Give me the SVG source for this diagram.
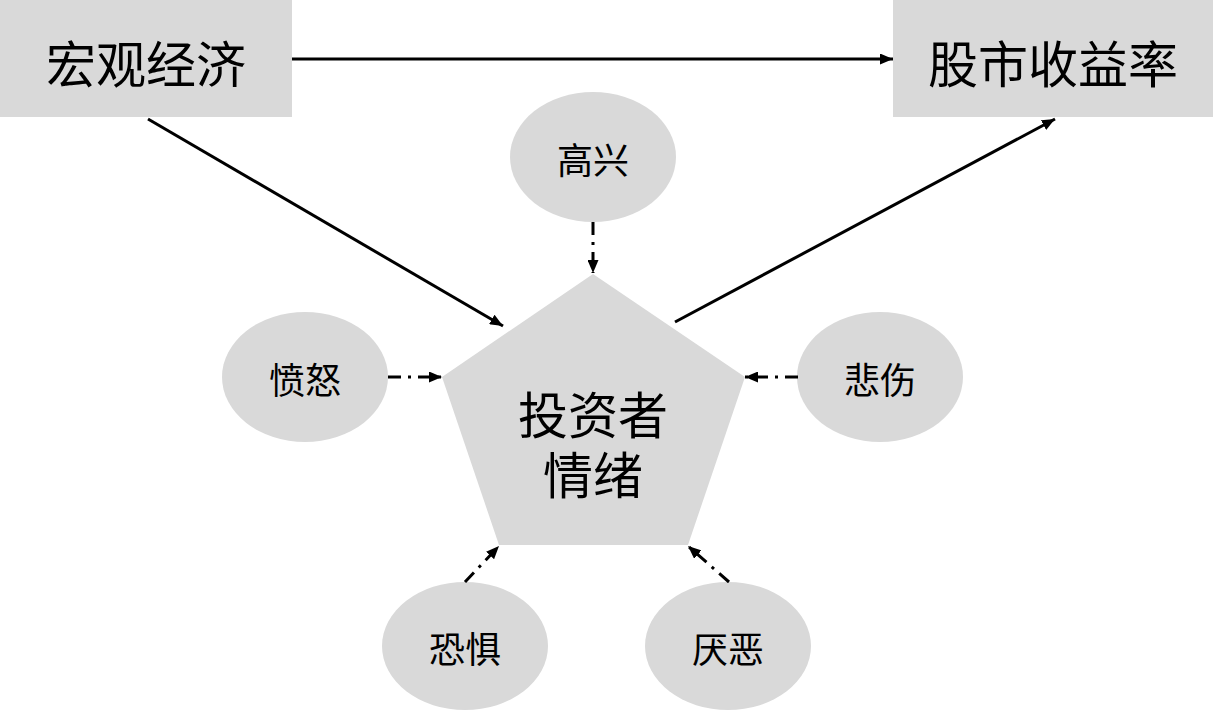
<svg xmlns="http://www.w3.org/2000/svg" width="1213" height="711" viewBox="0 0 1213 711">
<style>
.shape{fill:#d9d9d9;stroke:none}
.t{font-family:"Noto Sans CJK SC","Microsoft YaHei",sans-serif;fill:#000;text-anchor:middle;dominant-baseline:central}
.big{font-size:50px}
.small{font-size:36px}
.solid{stroke:#000;stroke-width:3;fill:none;marker-end:url(#ah)}
.dash{stroke:#000;stroke-width:3;fill:none;stroke-dasharray:13 7 3 7;marker-end:url(#ah)}
</style>
<defs>
<marker id="ah" markerUnits="userSpaceOnUse" markerWidth="13" markerHeight="11" refX="13" refY="5.5" orient="auto">
<path d="M0,0 L13,5.5 L0,11 z" fill="#000"/>
</marker>
</defs>
<g id="macro"><rect class="shape" x="0" y="0" width="292" height="117"/><text class="t big" x="146" y="61">宏观经济</text></g>
<g id="returns"><rect class="shape" x="893" y="0" width="320" height="117"/><text class="t big" x="1053" y="61">股市收益率</text></g>
<g id="sentiment"><polygon class="shape" points="593,274 745,377 688,545 499,545 442,377"/><text class="t big" x="593" y="412"><tspan x="593" y="412">投资者</tspan><tspan x="593" y="472">情绪</tspan></text></g>
<g id="happy"><ellipse class="shape" cx="593" cy="157" rx="83" ry="65"/><text class="t small" x="593" y="158">高兴</text></g>
<g id="anger"><ellipse class="shape" cx="305" cy="377" rx="83" ry="65"/><text class="t small" x="305" y="378">愤怒</text></g>
<g id="sad"><ellipse class="shape" cx="880" cy="377" rx="83" ry="65"/><text class="t small" x="880" y="378">悲伤</text></g>
<g id="fear"><ellipse class="shape" cx="465" cy="646" rx="83" ry="64"/><text class="t small" x="465" y="647">恐惧</text></g>
<g id="disgust"><ellipse class="shape" cx="728" cy="646" rx="83" ry="64"/><text class="t small" x="728" y="647">厌恶</text></g>
<g id="connectors">
<line class="solid" x1="292" y1="59" x2="893" y2="59"/>
<line class="solid" x1="148" y1="119" x2="503" y2="326"/>
<line class="solid" x1="675" y1="322" x2="1055" y2="119"/>
<line class="dash" x1="593" y1="222" x2="593" y2="273"/>
<line class="dash" x1="388" y1="377" x2="442" y2="377"/>
<line class="dash" x1="798" y1="377" x2="745" y2="377"/>
<line class="dash" x1="465" y1="582" x2="499" y2="546"/>
<line class="dash" x1="729" y1="582" x2="688" y2="546"/>
</g>
</svg>
